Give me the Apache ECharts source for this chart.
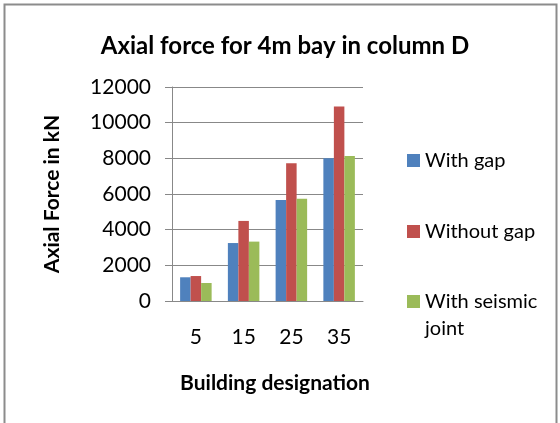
<!DOCTYPE html>
<html>
<head>
<meta charset="utf-8">
<script src="https://cdn.jsdelivr.net/npm/echarts@6/dist/echarts.min.js"></script>
<style>
  html, body { margin: 0; padding: 0; background: #fff; }
  #chart { width: 560px; height: 423px; }
</style>
</head>
<body>
<div id="chart"></div>
<script>
// Building designations on the x axis
const categories = ['5', '15', '25', '35'];
// Axial force (kN) per configuration
const withGap = [1330, 3250, 5660, 8000];
const withoutGap = [1400, 4490, 7720, 10900];
const withSeismicJoint = [1010, 3330, 5740, 8130];
const seriesNames = ['With gap', 'Without gap', 'With seismic joint'];
const seriesColors = ['#4F81BD', '#C0504D', '#9BBB59'];

const FONT = 'Lato';
const chart = echarts.init(document.getElementById('chart'), null, { renderer: 'canvas' });

// One legend block per series so each entry can sit at its own height;
// the wrapped entry gets a blank leading line so its first line lines up with the swatch.
function legendFor(idx, top) {
  return {
    data: [seriesNames[idx]],
    left: 402,
    top: top,
    orient: 'vertical',
    itemWidth: 13,
    itemHeight: 13,
    icon: 'rect',
    textStyle: { fontFamily: FONT, fontSize: 20, color: '#000', lineHeight: 27 },
    formatter: n => n === 'With seismic joint' ? ' \nWith seismic\njoint' : n
  };
}

chart.setOption({
  animation: false,
  color: seriesColors,
  title: {
    text: 'Axial force for 4m bay in column D',
    left: 280,
    textAlign: 'center',
    top: 29,
    textStyle: { fontFamily: FONT, fontSize: 24, fontWeight: 'bold', color: '#000' }
  },
  legend: [
    legendFor(0, 142),
    legendFor(1, 213),
    legendFor(2, 256)
  ],
  grid: { left: 172, right: 197, top: 87, bottom: 122, containLabel: false },
  xAxis: {
    type: 'category',
    data: categories,
    name: 'Building designation',
    nameLocation: 'middle',
    nameGap: 72,
    nameTextStyle: { fontFamily: FONT, fontSize: 21, fontWeight: 'bold', color: '#000', padding: [0, 0, 0, 15] },
    axisLine: { lineStyle: { color: '#888', width: 1 } },
    axisTick: { show: false },
    axisLabel: { fontFamily: FONT, fontSize: 21, color: '#000', margin: 26 }
  },
  yAxis: {
    type: 'value',
    min: 0,
    max: 12000,
    interval: 2000,
    name: 'Axial Force in kN',
    nameLocation: 'middle',
    nameGap: 109,
    nameTextStyle: { fontFamily: FONT, fontSize: 21, fontWeight: 'bold', color: '#000' },
    axisLine: { show: true, lineStyle: { color: '#888', width: 1 } },
    axisTick: { show: true, length: 7, lineStyle: { color: '#888' } },
    axisLabel: { fontFamily: FONT, fontSize: 21, color: '#000', margin: 21, formatter: v => String(v) },
    splitLine: { lineStyle: { color: '#888', width: 1 } }
  },
  series: [
    { name: seriesNames[0], type: 'bar', data: withGap, barGap: '0%', barCategoryGap: '34%' },
    { name: seriesNames[1], type: 'bar', data: withoutGap, barGap: '0%', barCategoryGap: '34%' },
    { name: seriesNames[2], type: 'bar', data: withSeismicJoint, barGap: '0%', barCategoryGap: '34%' }
  ],
  graphic: [
    {
      type: 'polyline',
      silent: true,
      shape: { points: [[4.5, 423], [4.5, 4.5], [556.5, 4.5], [556.5, 423]] },
      style: { fill: null, stroke: '#8c8c8c', lineWidth: 2 }
    }
  ]
});
</script>
</body>
</html>
